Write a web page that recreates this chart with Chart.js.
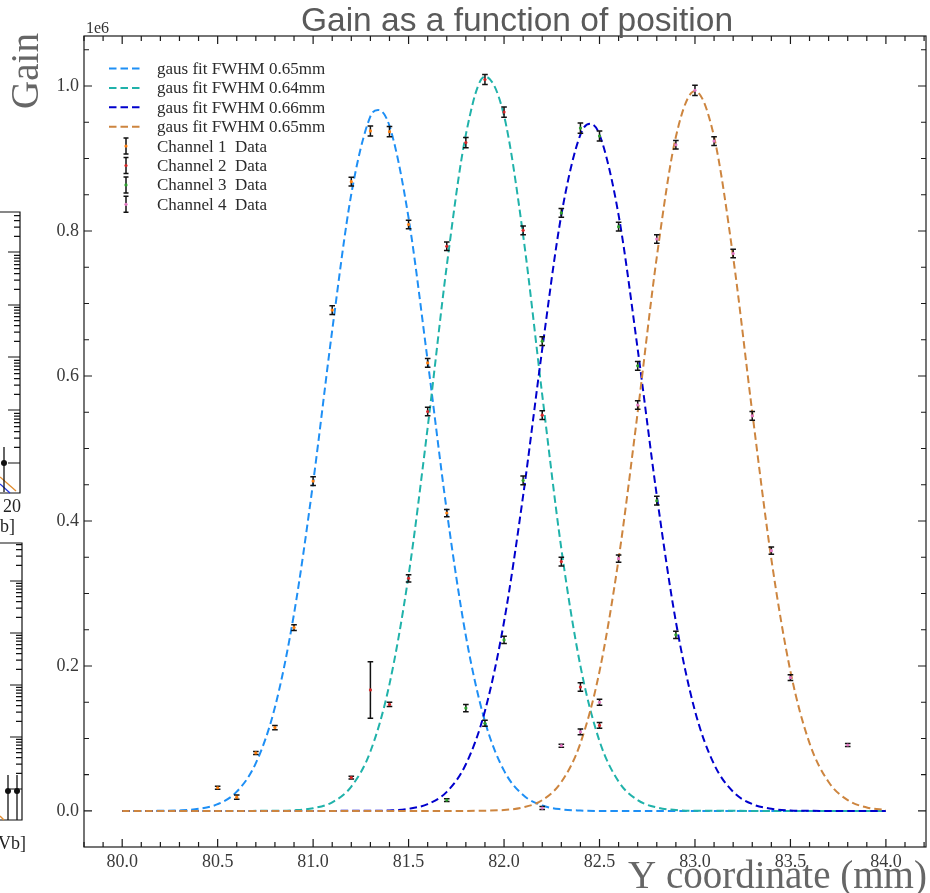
<!DOCTYPE html>
<html lang="en">
<head>
<meta charset="UTF-8">
<title>Gain as a function of position</title>
<script src="https://cdn.jsdelivr.net/npm/chart.js"></script>
<style>
  html, body { margin: 0; padding: 0; background: #fff; }
  #wrap { width: 930px; height: 893px; position: relative; }
</style>
</head>
<body>
<div id="wrap"><canvas id="gainChart"></canvas></div>
<script>
// gain values are in units of 1e6, positions in mm

// measured points per channel
const ch1Pos = [80.5, 80.6, 80.7, 80.8, 80.9, 81.0, 81.1, 81.2, 81.3, 81.4, 81.5, 81.6, 81.7];
const ch1Gain = [0.032, 0.019, 0.080, 0.115, 0.253, 0.455, 0.691, 0.868, 0.938, 0.937, 0.809, 0.618, 0.411];
const ch1Err = [0.002, 0.003, 0.002, 0.003, 0.004, 0.006, 0.006, 0.006, 0.007, 0.007, 0.006, 0.006, 0.005];

const ch2Pos = [81.2, 81.3, 81.4, 81.5, 81.6, 81.7, 81.8, 81.9, 82.0, 82.1, 82.2, 82.3, 82.4, 82.5];
const ch2Gain = [0.046, 0.167, 0.147, 0.321, 0.551, 0.779, 0.922, 1.009, 0.964, 0.801, 0.546, 0.344, 0.171, 0.118];
const ch2Err = [0.002, 0.039, 0.003, 0.005, 0.006, 0.006, 0.007, 0.007, 0.007, 0.006, 0.006, 0.006, 0.006, 0.004];

const ch3Pos = [81.7, 81.8, 81.9, 82.0, 82.1, 82.2, 82.3, 82.4, 82.5, 82.6, 82.7, 82.8, 82.9];
const ch3Gain = [0.015, 0.142, 0.121, 0.236, 0.456, 0.648, 0.825, 0.942, 0.931, 0.806, 0.614, 0.428, 0.243];
const ch3Err = [0.002, 0.005, 0.004, 0.005, 0.006, 0.006, 0.006, 0.007, 0.007, 0.006, 0.006, 0.006, 0.005];

const ch4Pos = [82.2, 82.3, 82.4, 82.5, 82.6, 82.7, 82.8, 82.9, 83.0, 83.1, 83.2, 83.3, 83.4, 83.5, 83.8];
const ch4Gain = [0.004, 0.090, 0.109, 0.150, 0.348, 0.560, 0.789, 0.919, 0.994, 0.924, 0.769, 0.545, 0.359, 0.184, 0.091];
const ch4Err = [0.002, 0.002, 0.004, 0.004, 0.005, 0.006, 0.006, 0.006, 0.007, 0.006, 0.006, 0.006, 0.005, 0.004, 0.002];

// gaussian fit curves, sampled
const fit1X = [80.0, 80.2, 80.3, 80.4, 80.5, 80.6, 80.7, 80.8, 80.9, 81.0, 81.1, 81.2, 81.3, 81.34, 81.4, 81.5, 81.6, 81.7, 81.8, 81.9, 82.0, 82.1, 82.2, 82.3, 82.4, 82.5, 84.0];
const fit1Y = [0, 0.0002, 0.0008, 0.003, 0.0094, 0.0266, 0.066, 0.143, 0.272, 0.453, 0.663, 0.851, 0.958, 0.967, 0.945, 0.818, 0.621, 0.414, 0.2415, 0.1236, 0.0556, 0.0219, 0.0076, 0.0023, 0.0006, 0.0001, 0];

const fit2X = [80.0, 80.8, 80.9, 81.0, 81.1, 81.2, 81.3, 81.4, 81.5, 81.6, 81.7, 81.8, 81.9, 82.0, 82.1, 82.2, 82.3, 82.4, 82.5, 82.6, 82.7, 82.8, 82.9, 83.0, 84.0];
const fit2Y = [0, 0.0002, 0.001, 0.0038, 0.012, 0.0336, 0.082, 0.175, 0.325, 0.529, 0.752, 0.933, 1.013, 0.959, 0.794, 0.574, 0.362, 0.200, 0.0964, 0.0406, 0.0149, 0.0048, 0.0013, 0.0003, 0];

const fit3X = [80.0, 81.3, 81.4, 81.5, 81.6, 81.7, 81.8, 81.9, 82.0, 82.1, 82.2, 82.3, 82.4, 82.45, 82.5, 82.6, 82.7, 82.8, 82.9, 83.0, 83.1, 83.2, 83.3, 83.4, 83.5, 83.6, 84.0];
const fit3Y = [0, 0.0002, 0.0008, 0.003, 0.0095, 0.0264, 0.0644, 0.138, 0.261, 0.435, 0.637, 0.822, 0.933, 0.948, 0.933, 0.822, 0.637, 0.435, 0.261, 0.138, 0.0644, 0.0264, 0.0095, 0.003, 0.0008, 0.0002, 0];

const fit4X = [80.0, 81.8, 81.9, 82.0, 82.1, 82.2, 82.3, 82.4, 82.5, 82.6, 82.7, 82.8, 82.9, 83.0, 83.1, 83.2, 83.3, 83.4, 83.5, 83.6, 83.7, 83.8, 83.9, 84.0];
const fit4Y = [0, 0.0001, 0.0004, 0.0014, 0.0049, 0.0149, 0.0399, 0.0935, 0.1926, 0.3475, 0.550, 0.764, 0.930, 0.993, 0.930, 0.764, 0.550, 0.3475, 0.1926, 0.0935, 0.0399, 0.0149, 0.0049, 0.0014];

const fitLabels = ['gaus fit FWHM 0.65mm', 'gaus fit FWHM 0.64mm', 'gaus fit FWHM 0.66mm', 'gaus fit FWHM 0.65mm'];
const dataLabels = ['Channel 1  Data', 'Channel 2  Data', 'Channel 3  Data', 'Channel 4  Data'];
const fitColors = ['#1e8ff5', '#20b2aa', '#0000cd', '#cd853f'];
const dataColors = ['#ff7f0e', '#d62728', '#2ca02c', '#e377c2'];

const xRange = [79.8, 84.21];
const yRange = [-0.0497, 1.069];

const SERIF = "'Liberation Serif', 'DejaVu Serif', serif";
const SANS = "'Liberation Sans', Arial, sans-serif";

function toPoints(xs, ys) {
    return xs.map((x, i) => ({ x: x, y: ys[i] }));
}

const fits = [[fit1X, fit1Y], [fit2X, fit2Y], [fit3X, fit3Y], [fit4X, fit4Y]];
const channels = [[ch1Pos, ch1Gain, ch1Err], [ch2Pos, ch2Gain, ch2Err], [ch3Pos, ch3Gain, ch3Err], [ch4Pos, ch4Gain, ch4Err]];

const datasets = [];
fits.forEach((f, i) => {
    datasets.push({
        label: fitLabels[i],
        data: toPoints(f[0], f[1]),
        showLine: true,
        borderColor: fitColors[i],
        borderWidth: 2,
        borderDash: [7.5, 4],
        pointRadius: 0,
        fill: false,
        cubicInterpolationMode: 'monotone',
        order: 5 - i
    });
});
channels.forEach((c, i) => {
    datasets.push({
        label: dataLabels[i],
        data: toPoints(c[0], c[1]),
        errors: c[2],
        showLine: false,
        pointRadius: 1.6,
        pointBackgroundColor: dataColors[i],
        pointBorderWidth: 0,
        order: 1
    });
});

// vertical error bars with caps, drawn right before each channel's markers
const errorBars = {
    id: 'errorBars',
    beforeDatasetDraw(chart, args) {
        const ds = chart.data.datasets[args.index];
        if (!ds.errors) return;
        const { ctx, chartArea: a, scales: { x, y } } = chart;
        ctx.save();
        ctx.beginPath();
        ctx.rect(a.left, a.top, a.right - a.left, a.bottom - a.top);
        ctx.clip();
        ctx.strokeStyle = '#111';
        ctx.lineWidth = 1.5;
        ctx.beginPath();
        ds.data.forEach((p, k) => {
            const px = x.getPixelForValue(p.x);
            const top = y.getPixelForValue(p.y + ds.errors[k]);
            const bot = y.getPixelForValue(p.y - ds.errors[k]);
            ctx.moveTo(px, top); ctx.lineTo(px, bot);
            ctx.moveTo(px - 2.8, top); ctx.lineTo(px + 2.8, top);
            ctx.moveTo(px - 2.8, bot); ctx.lineTo(px + 2.8, bot);
        });
        ctx.stroke();
        ctx.restore();
    }
};

// box frame with inward ticks on all four sides
const frameTicks = {
    id: 'frameTicks',
    afterDatasetsDraw(chart) {
        const { ctx, chartArea: a, scales: { x, y } } = chart;
        ctx.save();
        ctx.strokeStyle = '#1a1a1a';
        ctx.lineWidth = 1.2;
        ctx.strokeRect(a.left, a.top, a.right - a.left, a.bottom - a.top);
        ctx.beginPath();
        for (let k = Math.ceil(x.min * 10 - 1e-6); k <= Math.floor(x.max * 10 + 1e-6); k++) {
            const px = x.getPixelForValue(k / 10);
            const len = k % 5 === 0 ? 8 : 5;
            ctx.moveTo(px, a.bottom); ctx.lineTo(px, a.bottom - len);
            ctx.moveTo(px, a.top); ctx.lineTo(px, a.top + len);
        }
        for (let k = Math.ceil(y.min * 20 - 1e-6); k <= Math.floor(y.max * 20 + 1e-6); k++) {
            const py = y.getPixelForValue(k / 20);
            const len = k % 4 === 0 ? 8 : 5;
            ctx.moveTo(a.left, py); ctx.lineTo(a.left + len, py);
            ctx.moveTo(a.right, py); ctx.lineTo(a.right - len, py);
        }
        ctx.stroke();
        ctx.restore();
    }
};

// neighbouring panels cut at the left edge of the figure
function drawSidePanels(ctx) {
    ctx.save();
    ctx.strokeStyle = '#111';
    ctx.lineWidth = 1.2;
    const panels = [
        { top: 212, bottom: 493, right: 20, majors: [252, 305, 357, 410, 463] },
        { top: 543, bottom: 820, right: 22, majors: [581, 633, 685, 737, 789] }
    ];
    panels.forEach(p => {
        ctx.beginPath();
        ctx.moveTo(0, p.top); ctx.lineTo(p.right, p.top);
        ctx.lineTo(p.right, p.bottom); ctx.lineTo(0, p.bottom);
        p.majors.forEach(m => {
            ctx.moveTo(p.right, m); ctx.lineTo(p.right - 12, m);
            for (let k = 2; k <= 9; k++) {
                const ym = m - 52 * Math.log10(k);
                if (ym > p.top) { ctx.moveTo(p.right, ym); ctx.lineTo(p.right - 6, ym); }
            }
        });
        ctx.stroke();
    });
    // lines and points of the neighbouring panels
    ctx.lineWidth = 1.3;
    ctx.strokeStyle = '#e08a2c';
    ctx.beginPath(); ctx.moveTo(0, 477); ctx.lineTo(16, 491); ctx.stroke();
    ctx.beginPath(); ctx.moveTo(0, 816); ctx.lineTo(4, 820); ctx.stroke();
    ctx.strokeStyle = '#2233dd';
    ctx.beginPath(); ctx.moveTo(0, 484); ctx.lineTo(10, 493); ctx.stroke();
    ctx.strokeStyle = '#111';
    ctx.fillStyle = '#111';
    [[4, 463, 447, 492], [8, 791, 775, 820], [17, 791, 775, 820]].forEach(d => {
        ctx.beginPath(); ctx.moveTo(d[0], d[2]); ctx.lineTo(d[0], d[3]); ctx.stroke();
        ctx.beginPath(); ctx.arc(d[0], d[1], 3, 0, Math.PI * 2); ctx.fill();
    });
    ctx.fillStyle = '#222';
    ctx.font = '18px ' + SERIF;
    ctx.textAlign = 'left';
    ctx.textBaseline = 'alphabetic';
    ctx.fillText('20', 3, 512);
    ctx.fillText('b]', 0, 532);
    ctx.fillText('Vb]', -2, 849);
    ctx.restore();
}

const annotations = {
    id: 'annotations',
    afterDraw(chart) {
        const { ctx, chartArea: a } = chart;
        ctx.save();
        // title
        ctx.fillStyle = '#5a5a5a';
        ctx.font = '33.5px ' + SANS;
        ctx.textAlign = 'center';
        ctx.textBaseline = 'alphabetic';
        ctx.fillText('Gain as a function of position', 517, 31);
        // offset text of the y axis
        ctx.fillStyle = '#333';
        ctx.font = '16px ' + SERIF;
        ctx.textAlign = 'left';
        ctx.fillText('1e6', a.left + 2, 33);
        // axis titles
        ctx.fillStyle = '#666';
        ctx.font = '39px ' + SERIF;
        ctx.fillText('Y coordinate (mm)', 628, 888);
        ctx.save();
        ctx.translate(38, 71);
        ctx.rotate(-Math.PI / 2);
        ctx.textAlign = 'center';
        ctx.font = '39px ' + SERIF;
        ctx.fillText('Gain', 0, 0);
        ctx.restore();

        // legend, top left inside the axes
        const rowY0 = 68.5, rowH = 19.4;
        ctx.font = '17px ' + SERIF;
        ctx.textBaseline = 'middle';
        chart.data.datasets.forEach((ds, i) => {
            const yy = rowY0 + i * rowH;
            if (ds.errors) {
                ctx.strokeStyle = '#111';
                ctx.lineWidth = 1.5;
                ctx.setLineDash([]);
                ctx.beginPath();
                ctx.moveTo(126, yy - 8); ctx.lineTo(126, yy + 8);
                ctx.moveTo(123.5, yy - 8); ctx.lineTo(128.5, yy - 8);
                ctx.moveTo(123.5, yy + 8); ctx.lineTo(128.5, yy + 8);
                ctx.stroke();
                ctx.fillStyle = ds.pointBackgroundColor;
                ctx.beginPath(); ctx.arc(126, yy, 1.6, 0, Math.PI * 2); ctx.fill();
            } else {
                ctx.strokeStyle = ds.borderColor;
                ctx.lineWidth = 2;
                ctx.setLineDash(ds.borderDash);
                ctx.beginPath();
                ctx.moveTo(109, yy); ctx.lineTo(143, yy);
                ctx.stroke();
                ctx.setLineDash([]);
            }
            ctx.fillStyle = '#2b2b2b';
            ctx.fillText(ds.label, 157, yy + 1);
        });
        ctx.restore();

        drawSidePanels(ctx);
    }
};

const tickFont = { family: SERIF, size: 18 };

new Chart(document.getElementById('gainChart'), {
    type: 'scatter',
    data: { datasets: datasets },
    options: {
        responsive: true,
        maintainAspectRatio: false,
        animation: false,
        layout: { padding: { top: 36, right: 3, left: 0, bottom: 0 } },
        plugins: {
            legend: { display: false },
            tooltip: { enabled: false },
            title: { display: false }
        },
        scales: {
            x: {
                type: 'linear',
                min: xRange[0],
                max: xRange[1],
                grid: { display: false, drawTicks: false },
                border: { display: false },
                ticks: {
                    stepSize: 0.5,
                    includeBounds: false,
                    padding: 4,
                    color: '#3a3a3a',
                    font: tickFont,
                    maxRotation: 0,
                    callback: v => v.toFixed(1)
                },
                afterFit(s) { s.height = 46; }
            },
            y: {
                type: 'linear',
                min: yRange[0],
                max: yRange[1],
                grid: { display: false, drawTicks: false },
                border: { display: false },
                ticks: {
                    stepSize: 0.2,
                    includeBounds: false,
                    padding: 5,
                    color: '#3a3a3a',
                    font: tickFont,
                    callback: v => v.toFixed(1)
                },
                afterFit(s) { s.width = 84; }
            }
        }
    },
    plugins: [errorBars, frameTicks, annotations]
});
</script>
</body>
</html>
